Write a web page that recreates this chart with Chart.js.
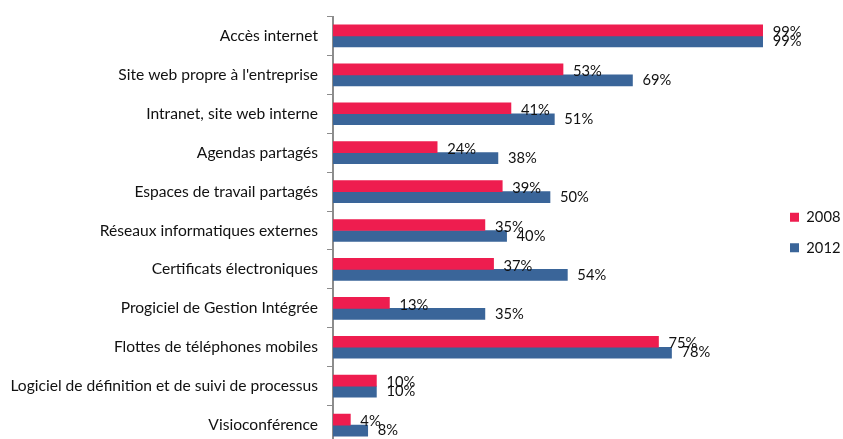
<!DOCTYPE html>
<html>
<head>
<meta charset="utf-8">
<script src="https://cdn.jsdelivr.net/npm/chart.js@4/dist/chart.umd.min.js"></script>
<style>
  html, body { margin: 0; padding: 0; background: #fff; overflow: hidden; }
  #wrap { width: 843px; height: 446px; position: relative; }
</style>
</head>
<body>
<div id="wrap"><canvas id="chart"></canvas></div>
<script>
const categories = [
  "Accès internet",
  "Site web propre à l'entreprise",
  "Intranet, site web interne",
  "Agendas partagés",
  "Espaces de travail partagés",
  "Réseaux informatiques externes",
  "Certificats électroniques",
  "Progiciel de Gestion Intégrée",
  "Flottes de téléphones mobiles",
  "Logiciel de définition et de suivi de processus",
  "Visioconférence"
];

const values2008 = [99, 53, 41, 24, 39, 35, 37, 13, 75, 10, 4];
const values2012 = [99, 69, 51, 38, 50, 40, 54, 35, 78, 10, 8];

const seriesNames = ["2008", "2012"];

const FONT = "Lato, 'Open Sans', sans-serif";
const FONT_SIZE = 14.7;

// labels "xx%" a droite des barres
const valueLabels = {
  id: "valueLabels",
  afterDatasetsDraw(chart) {
    const ctx = chart.ctx;
    ctx.save();
    ctx.font = FONT_SIZE + "px " + FONT;
    ctx.fillStyle = "#111";
    ctx.textBaseline = "middle";
    ctx.textAlign = "left";
    chart.data.datasets.forEach((ds, i) => {
      const meta = chart.getDatasetMeta(i);
      meta.data.forEach((bar, j) => {
        const dy = i === 0 ? 2 : 0;
        ctx.fillText(ds.data[j] + "%", bar.x + 10, bar.y + dy);
      });
    });
    ctx.restore();
  }
};

// legende : largeur fixe + petit decalage
const legendTweak = {
  id: "legendTweak",
  beforeInit(chart) {
    const fit = chart.legend.fit;
    chart.legend.fit = function () {
      fit.call(this);
      this.width = 76;
    };
    const draw = chart.legend.draw;
    chart.legend.draw = function () {
      const ctx = chart.ctx;
      ctx.save();
      ctx.translate(7, 2);
      draw.call(this);
      ctx.restore();
    };
  }
};

new Chart(
  document.getElementById("chart"),
  {
    type: "bar",
    data: {
      labels: categories,
      datasets: [
        {
          label: seriesNames[0],
          data: values2008,
          backgroundColor: "#EE1D4F",
          barThickness: 11
        },
        {
          label: seriesNames[1],
          data: values2012,
          backgroundColor: "#3A6599",
          barThickness: 11
        }
      ]
    },
    options: {
      indexAxis: "y",
      responsive: true,
      maintainAspectRatio: false,
      animation: false,
      layout: {
        padding: { top: 16.5, bottom: 1.5, left: 0, right: 0 }
      },
      plugins: {
        legend: {
          position: "right",
          align: "center",
          labels: {
            boxWidth: 9,
            boxHeight: 9,
            padding: 16,
            color: "#111",
            font: { family: FONT, size: FONT_SIZE }
          }
        },
        tooltip: { enabled: false }
      },
      scales: {
        x: {
          display: false,
          min: 0,
          max: 100
        },
        y: {
          afterFit(scale) {
            scale.width = 333;
            scale.paddingTop = 0;
            scale.paddingBottom = 0;
          },
          grid: {
            offset: true,
            drawOnChartArea: false,
            drawTicks: true,
            tickLength: 6,
            color: "#8c8c8c",
            lineWidth: 1
          },
          border: {
            display: true,
            color: "#8c8c8c",
            width: 2
          },
          ticks: {
            padding: 9,
            color: "#111",
            font: { family: FONT, size: 15.6 }
          }
        }
      }
    },
    plugins: [valueLabels, legendTweak]
  }
);
</script>
</body>
</html>
